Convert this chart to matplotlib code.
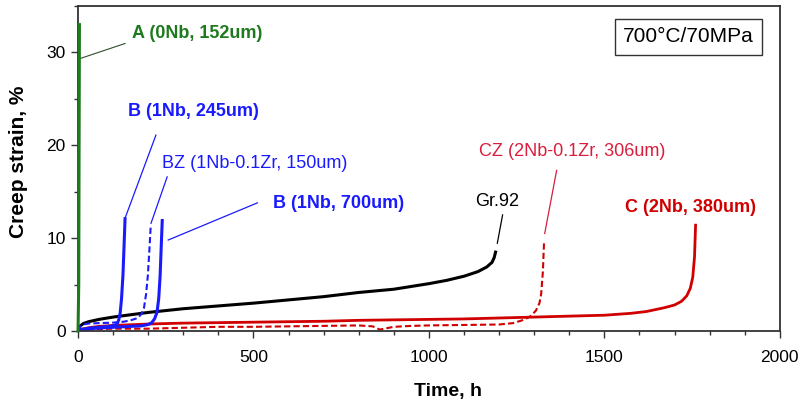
import matplotlib
matplotlib.use("Agg")
import matplotlib.pyplot as plt
from matplotlib.ticker import MultipleLocator

plt.rcParams["font.family"] = ["Liberation Sans", "DejaVu Sans"]

# Данные (время, ч / деформация ползучести, %)
t_a = [0, 2, 3, 4]
e_a = [0, 5, 20, 33]

t_gr92 = [0, 5, 15, 30, 60, 100, 200, 300, 400, 500, 600, 700, 800, 900, 1000,
          1050, 1100, 1140, 1165, 1180, 1186, 1190]
e_gr92 = [0, 0.5, 0.8, 1.0, 1.25, 1.5, 2.0, 2.4, 2.7, 3.0, 3.35, 3.7, 4.15, 4.5, 5.1,
          5.45, 5.9, 6.4, 6.9, 7.4, 7.9, 8.5]

t_c = [0, 10, 30, 60, 100, 200, 300, 400, 500, 600, 700, 800, 900, 1000, 1100, 1200,
       1300, 1400, 1500, 1575, 1620, 1670, 1700, 1720, 1735, 1745, 1752, 1757, 1760]
e_c = [0, 0.2, 0.35, 0.5, 0.6, 0.75, 0.85, 0.9, 0.95, 1.0, 1.05, 1.15, 1.2, 1.25, 1.3, 1.4,
       1.5, 1.6, 1.7, 1.9, 2.1, 2.5, 2.8, 3.2, 3.8, 4.6, 5.8, 8.0, 11.4]

t_cz = [0, 20, 50, 100, 200, 300, 400, 500, 600, 700, 800, 840, 860, 880, 900, 950,
        1000, 1100, 1200, 1240, 1270, 1290, 1305, 1315, 1320, 1325, 1328]
e_cz = [0, 0.15, 0.2, 0.25, 0.25, 0.35, 0.45, 0.45, 0.5, 0.55, 0.6, 0.5, 0.15, 0.3, 0.45, 0.55,
        0.6, 0.65, 0.7, 0.85, 1.2, 1.6, 2.2, 3.0, 4.0, 6.5, 9.5]

t_b245 = [0, 10, 30, 60, 90, 105, 112, 116, 120, 124, 128, 131, 134]
e_b245 = [0, 0.15, 0.3, 0.4, 0.5, 0.6, 0.8, 1.2, 1.9, 3.5, 6.0, 9.0, 12.1]

t_bz = [0, 5, 15, 30, 60, 100, 130, 150, 170, 180, 188, 194, 199, 203, 207]
e_bz = [0, 0.4, 0.7, 0.8, 0.85, 0.9, 1.0, 1.15, 1.4, 1.8, 2.5, 4.0, 6.0, 8.5, 11.2]

t_b700 = [0, 20, 50, 100, 150, 180, 200, 210, 218, 225, 230, 234, 237, 240]
e_b700 = [0, 0.15, 0.3, 0.4, 0.5, 0.55, 0.7, 0.9, 1.3, 2.0, 3.5, 6.0, 9.0, 11.9]

green = "#1f7a1f"
blue = "#1a1aff"
red = "#d00000"
pink = "#d81e3c"

fig = plt.figure(figsize=(8.02, 4.04), dpi=100)
ax = fig.add_axes([0.0973, 0.1807, 0.875, 0.8043])

ax.plot(t_a, e_a, color=green, lw=2.2, zorder=4, clip_on=False)
ax.plot(t_gr92, e_gr92, color="black", lw=2.2)
ax.plot(t_c, e_c, color=red, lw=2.0)
ax.plot(t_cz, e_cz, color=red, lw=1.5, ls=(0, (3, 1.5)))
ax.plot(t_b245, e_b245, color=blue, lw=2.2)
ax.plot(t_bz, e_bz, color=blue, lw=1.5, ls=(0, (3, 1.5)))
ax.plot(t_b700, e_b700, color=blue, lw=2.2)

# Выноски
ax.plot([6, 134], [29.35, 30.97], color="#2f4f2f", lw=0.8)
ax.plot([222, 134], [21.1, 12.15], color=blue, lw=0.9)
ax.plot([254, 208], [16.6, 11.6], color=blue, lw=0.9)
ax.plot([511, 257], [13.8, 9.8], color=blue, lw=0.9)
ax.plot([1195, 1210], [9.46, 12.5], color="black", lw=0.9)
ax.plot([1330, 1364], [10.5, 17.3], color=pink, lw=0.9)

ax.text(154, 32.0, "A (0Nb, 152um)", color=green, fontsize=13, fontweight="bold",
        ha="left", va="center")
ax.text(143, 23.65, "B (1Nb, 245um)", color=blue, fontsize=13, fontweight="bold",
        ha="left", va="center")
ax.text(240, 18.06, "BZ (1Nb-0.1Zr, 150um)", color=blue, fontsize=13,
        ha="left", va="center")
ax.text(556, 13.76, "B (1Nb, 700um)", color=blue, fontsize=13, fontweight="bold",
        ha="left", va="center")
ax.text(1195, 13.9, "Gr.92", color="black", fontsize=13, ha="center", va="center")
ax.text(1407, 19.35, "CZ (2Nb-0.1Zr, 306um)", color=pink, fontsize=13,
        ha="center", va="center")
ax.text(1746, 13.3, "C (2Nb, 380um)", color=red, fontsize=13, fontweight="bold",
        ha="center", va="center")
ax.text(1740, 31.7, "700\u00b0C/70MPa", color="black", fontsize=15, ha="center", va="center",
        bbox=dict(boxstyle="square,pad=0.4", fc="white", ec="#333333", lw=1.0))

ax.set_xlim(0, 2000)
ax.set_ylim(0, 35)
ax.xaxis.set_major_locator(MultipleLocator(500))
ax.xaxis.set_minor_locator(MultipleLocator(100))
ax.yaxis.set_major_locator(MultipleLocator(10))
ax.yaxis.set_minor_locator(MultipleLocator(5))
ax.tick_params(axis="both", which="major", direction="out", length=5, width=1,
               labelsize=12.5, color="#333333")
ax.tick_params(axis="both", which="minor", direction="out", length=3, width=1,
               color="#333333")
ax.tick_params(axis="x", which="major", pad=9)
ax.tick_params(axis="y", which="major", pad=4)
for sp in ax.spines.values():
    sp.set_color("#333333")
    sp.set_linewidth(1.3)

ax.set_xlabel("Time, h", fontsize=14, fontweight="bold")
ax.set_ylabel("Creep strain, %", fontsize=15, fontweight="bold")
ax.xaxis.set_label_coords(0.527, -0.16)
ax.yaxis.set_label_coords(-0.071, 0.52)

fig.savefig("out.png", dpi=100)
